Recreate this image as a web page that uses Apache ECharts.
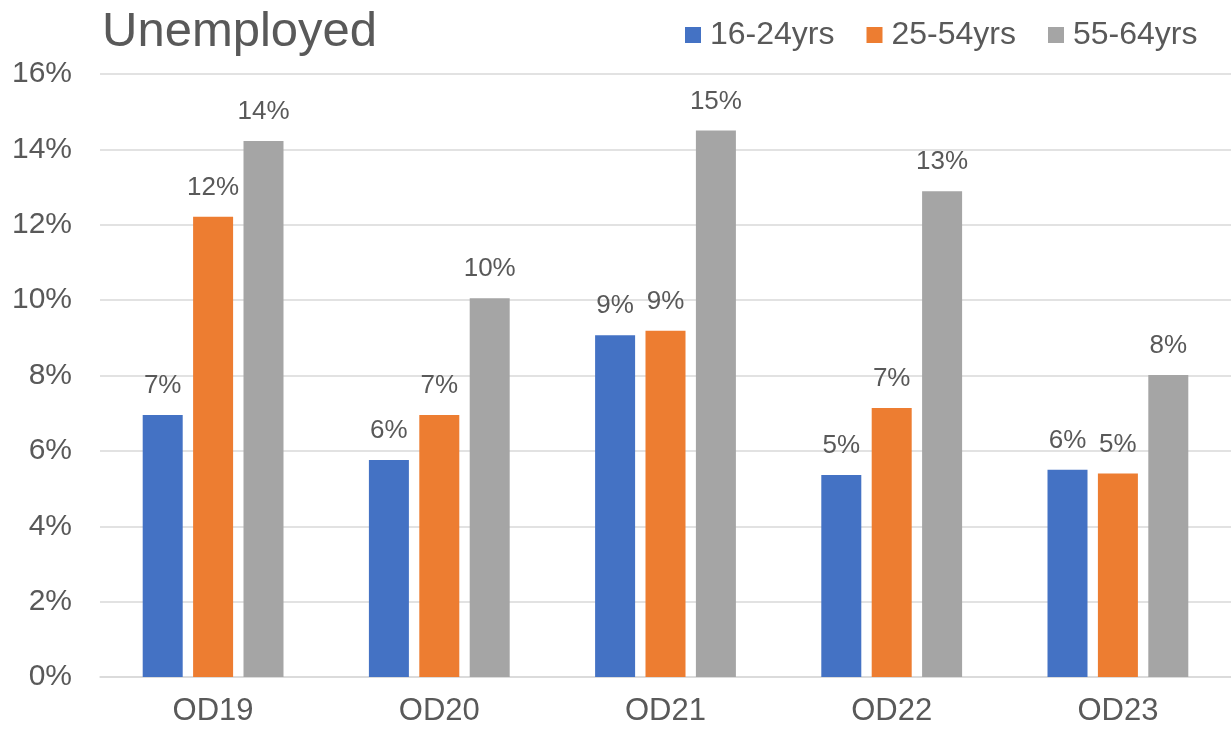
<!DOCTYPE html>
<html>
<head>
<meta charset="utf-8">
<title>Unemployed</title>
<script src="https://cdn.jsdelivr.net/npm/echarts@6/dist/echarts.min.js"></script>
<style>
  html, body { margin: 0; padding: 0; background: #ffffff; }
  #chart { width: 1231px; height: 733px; }
</style>
</head>
<body>
<div id="chart"></div>
<script>
// Unemployment rate by age band, per survey period (percent)
const categories = ['OD19', 'OD20', 'OD21', 'OD22', 'OD23'];
const seriesNames = ['16-24yrs', '25-54yrs', '55-64yrs'];
const age16to24 = [6.95, 5.76, 9.07, 5.36, 5.5];
const age25to54 = [12.21, 6.95, 9.19, 7.14, 5.4];
const age55to64 = [14.22, 10.05, 14.5, 12.89, 8.01];
const yTicks = [0, 2, 4, 6, 8, 10, 12, 14, 16];

const FONT = '"Liberation Sans", Arial, sans-serif';
const TEXT = '#595959';
const colors = ['#4472C4', '#ED7D31', '#A5A5A5'];

const chart = echarts.init(document.getElementById('chart'), null, { renderer: 'canvas' });

function barSeries(name, data, color) {
  return {
    name: name,
    type: 'bar',
    data: data,
    barWidth: 40,
    barGap: '26%',
    itemStyle: { color: color },
    label: {
      show: true,
      position: 'top',
      distance: 16,
      color: TEXT,
      fontFamily: FONT,
      fontSize: 26,
      formatter: p => Math.round(p.value) + '%'
    },
    emphasis: { disabled: true }
  };
}

chart.setOption({
  animation: false,
  backgroundColor: '#ffffff',
  color: colors,
  title: {
    text: 'Unemployed',
    left: 97,
    top: 3,
    textStyle: { color: TEXT, fontFamily: FONT, fontSize: 49, fontWeight: 'normal' }
  },
  legend: {
    data: seriesNames,
    left: 680,
    top: 14,
    icon: 'rect',
    itemWidth: 16,
    itemHeight: 16,
    itemGap: 32,
    textStyle: {
      color: TEXT, fontFamily: FONT, fontSize: 32, lineHeight: 32,
      padding: [0, 0, 0, 4]
    }
  },
  grid: { left: 100, right: 0, top: 74, bottom: 56, containLabel: false },
  xAxis: {
    type: 'category',
    data: categories,
    axisTick: { show: false },
    axisLine: { show: true, lineStyle: { color: '#d9d9d9', width: 1.5 } },
    axisLabel: { color: TEXT, fontFamily: FONT, fontSize: 31, margin: 19 }
  },
  yAxis: {
    type: 'value',
    min: yTicks[0],
    max: yTicks[yTicks.length - 1],
    interval: yTicks[1] - yTicks[0],
    axisLine: { show: false },
    axisTick: { show: false },
    splitLine: { lineStyle: { color: '#d9d9d9', width: 1.5 } },
    axisLabel: { color: TEXT, fontFamily: FONT, fontSize: 30, margin: 28, formatter: '{value}%' }
  },
  series: [
    barSeries(seriesNames[0], age16to24, colors[0]),
    barSeries(seriesNames[1], age25to54, colors[1]),
    barSeries(seriesNames[2], age55to64, colors[2])
  ]
});
</script>
</body>
</html>
